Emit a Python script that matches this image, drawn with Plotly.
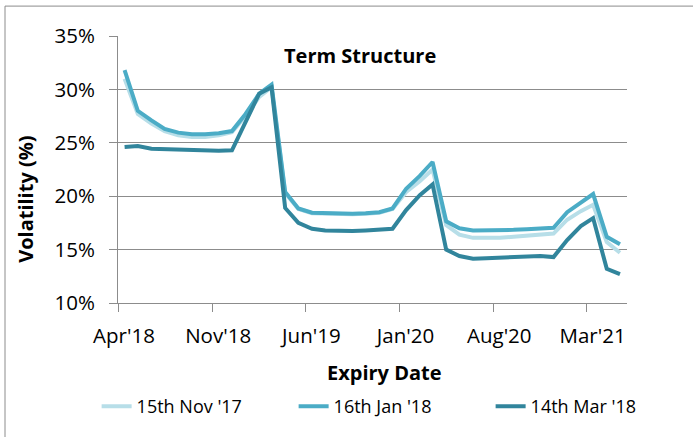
import pandas as pd
import plotly.graph_objects as go

# Expiry months (Apr'18 .. May'21)
months = pd.date_range("2018-04-01", "2021-05-01", freq="MS")

s_nov17 = [31.0, 27.7, 26.8, 26.1, 25.7, 25.55, 25.55, 25.7, 26.0, 27.5, 29.3, 30.2,
           20.3, 18.8, 18.4, 18.35, 18.3, 18.3, 18.35, 18.45, 18.8, 20.4, 21.4, 22.5,
           17.3, 16.4, 16.1, 16.1, 16.1, 16.2, 16.3, 16.4, 16.5, 17.8, 18.6, 19.2, 15.7, 14.7]
s_jan18 = [31.8, 28.0, 27.1, 26.3, 25.95, 25.8, 25.8, 25.9, 26.1, 27.7, 29.6, 30.45,
           20.4, 18.85, 18.45, 18.4, 18.35, 18.35, 18.4, 18.5, 18.85, 20.7, 21.9, 23.2,
           17.65, 17.0, 16.8, 16.8, 16.8, 16.85, 16.9, 16.95, 17.05, 18.5, 19.4, 20.2, 16.2, 15.5]
s_mar18 = [24.6, 24.7, 24.45, 24.4, 24.4, 24.3, 24.25, 24.25, 24.3, 27.0, 29.6, 30.2,
           18.9, 17.5, 16.95, 16.8, 16.75, 16.75, 16.8, 16.85, 16.95, 18.7, 20.1, 21.1,
           15.0, 14.4, 14.15, 14.2, 14.25, 14.3, 14.35, 14.4, 14.3, 15.9, 17.2, 17.95, 13.2, 12.7]

series_names = ["15th Nov '17", "16th Jan '18", "14th Mar '18"]
series_vals = [s_nov17, s_jan18, s_mar18]
colors = ["#b7dee8", "#4bacc6", "#31859c"]

# plot each monthly point in the middle of its month (Excel date-axis style)
xdates = [m + pd.Timedelta(days=15) for m in months]

FONT = "Open Sans"
GRID = "#8c8c8c"

fig = go.Figure()
for name, vals, col in zip(series_names, series_vals, colors):
    fig.add_trace(go.Scatter(x=xdates, y=vals, mode="lines", name=name,
                             line=dict(color=col, width=4)))

fig.update_layout(
    width=693, height=437,
    margin=dict(l=118, r=66, t=36, b=134),
    paper_bgcolor="white", plot_bgcolor="white",
    font=dict(family=FONT, color="#000000"),
    showlegend=True,
    legend=dict(orientation="h", x=-0.042, xanchor="left", y=-0.388, yanchor="middle",
                font=dict(size=18, family=FONT), bgcolor="rgba(0,0,0,0)",
                entrywidth=152, itemwidth=30),
    annotations=[
        dict(text="<b>Term Structure</b>", xref="paper", yref="paper", x=0.4754, y=0.927,
             xanchor="center", yanchor="middle", showarrow=False, font=dict(size=20, family=FONT)),
        dict(text="<b>Expiry Date</b>", xref="paper", yref="paper", x=0.5226, y=-0.262,
             xanchor="center", yanchor="middle", showarrow=False, font=dict(size=20, family=FONT)),
        dict(text="<b>Volatility (%)</b>", xref="paper", yref="paper", x=-0.183, y=0.3895,
             xanchor="center", yanchor="middle", showarrow=False, textangle=-90,
             font=dict(size=20, family=FONT)),
    ],
    shapes=[dict(type="rect", xref="paper", yref="paper", x0=-0.222, x1=1.3, y0=-0.6, y1=1.112,
                 line=dict(color="#8c8c8c", width=1), layer="below")],
)

fig.update_xaxes(
    type="date", range=["2018-04-01", "2021-06-01"],
    tick0="2018-04-01", dtick="M7", tickformat="%b'%y",
    showgrid=False, zeroline=False,
    showline=True, linecolor=GRID, linewidth=1,
    ticks="outside", ticklen=8, tickcolor=GRID, tickwidth=1,
    ticklabelshift=6, ticklabelstandoff=6,
    tickfont=dict(size=20.5, family=FONT, color="#000000"),
)
fig.update_yaxes(
    range=[10, 35], dtick=5, ticksuffix="%",
    showgrid=True, gridcolor=GRID, gridwidth=1, zeroline=False,
    showline=True, linecolor=GRID, linewidth=1,
    ticks="outside", ticklen=8, tickcolor=GRID, tickwidth=1,
    ticklabelstandoff=10,
    tickfont=dict(size=20.5, family=FONT, color="#000000"),
)

fig.write_html("out.html", config={"displayModeBar": False},
               post_script="document.body.style.margin='0px';")
